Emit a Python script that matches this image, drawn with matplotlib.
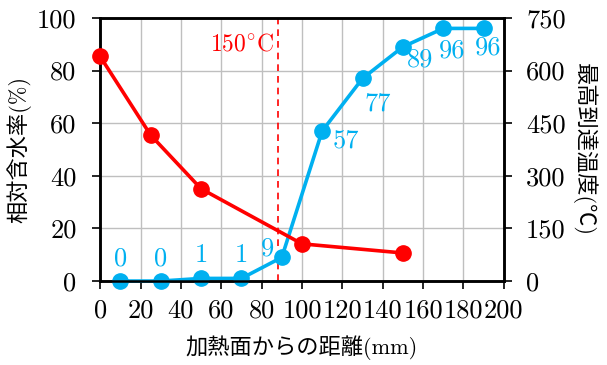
import matplotlib.pyplot as plt
import numpy as np

plt.rcParams['font.family'] = ['cmr10', 'Noto Sans CJK JP', 'DejaVu Sans']
plt.rcParams['mathtext.fontset'] = 'cm'
plt.rcParams['axes.unicode_minus'] = False

# 最高到達温度 (右軸)
dist_temp = [0, 25, 50, 100, 150]
temp = [640, 416, 263, 106, 80]

# 相対含水率 (左軸)
dist_moist = [10, 30, 50, 70, 90, 110, 130, 150, 170, 190]
moist = [0, 0, 1, 1, 9, 57, 77, 89, 96, 96]

x_ticks = list(range(0, 201, 20))
left_ticks = [0, 20, 40, 60, 80, 100]
right_ticks = [0, 150, 300, 450, 600, 750]
temp_line_x = 88

RED = '#FF0000'
BLUE = '#00B0F0'
FS = 19

fig = plt.figure(figsize=(6.07, 3.65), dpi=100)
ax = fig.add_axes([0.165, 0.230, 0.665, 0.721])
ax2 = ax.twinx()

ax.set_xlim(0, 200)
ax.set_ylim(0, 100)
ax2.set_ylim(0, 750)
ax.set_xticks(x_ticks)
ax.set_yticks(left_ticks)
ax2.set_yticks(right_ticks)
ax.set_xticklabels([str(v) for v in x_ticks], fontsize=FS)
ax.set_yticklabels([str(v) for v in left_ticks], fontsize=FS)
ax2.set_yticklabels([str(v) for v in right_ticks], fontsize=FS)
ax.grid(True, color='#BFBFBF', lw=1)
ax.set_axisbelow(True)

for a in (ax, ax2):
    for s in a.spines.values():
        s.set_linewidth(1.8)
    a.tick_params(direction='out', length=6, width=1.2)
ax.tick_params(axis='x', pad=7)
ax.tick_params(axis='y', pad=11)
ax2.tick_params(axis='y', pad=10)

ax.plot(dist_moist, moist, color=BLUE, lw=2.6, marker='o', ms=11, clip_on=False, zorder=3)
ax2.plot(dist_temp, temp, color=RED, lw=2.6, marker='o', ms=11, clip_on=False, zorder=3)
ax.axvline(temp_line_x, color=RED, lw=1.2, ls=(0, (4, 3)), zorder=2)
ax.text(temp_line_x - 2, 90, r'$\mathrm{150^{\circ}C}$', color=RED, fontsize=17,
        ha='right', va='center')

# 数値ラベルの位置 (points)
offsets = [(0, 16.5), (0, 16.5), (0, 16.5), (0, 16.5), (-10, 6.5),
           (17, -7), (11, -18), (12, -9.5), (6.5, -16), (3, -14)]
for xv, yv, (dx, dy) in zip(dist_moist, moist, offsets):
    ax.annotate(str(yv), (xv, yv), xytext=(dx, dy), textcoords='offset points',
                color=BLUE, fontsize=FS, ha='center', va='center')

ax.set_xlabel('加熱面からの距離(mm)', fontsize=16, labelpad=9)
ax.set_ylabel('相対含水率(%)', fontsize=16, labelpad=4)
ax2.set_ylabel('最高到達温度(℃)', fontsize=16, rotation=270, labelpad=22)

fig.savefig('out.png', dpi=100)
